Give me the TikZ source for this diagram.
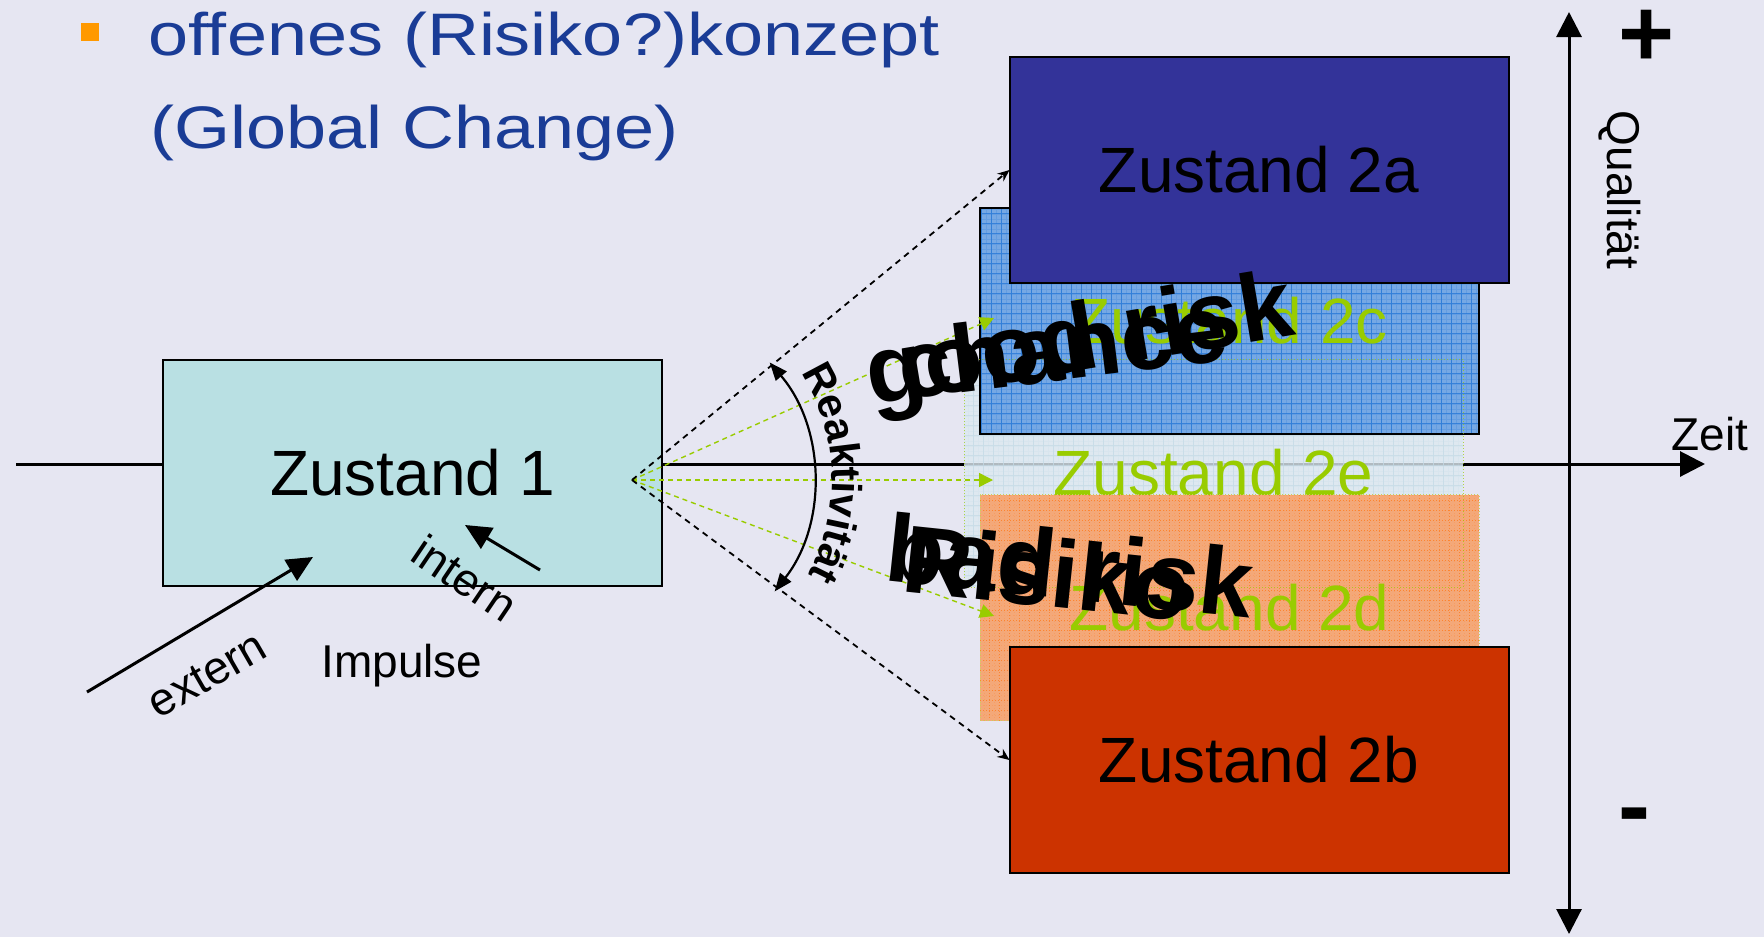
\documentclass[tikz,border=0pt]{standalone}
\usepackage{fontspec}
\setmainfont{Liberation Sans}
\usetikzlibrary{arrows.meta,decorations.text,calc}
\newcommand\fsz[1]{\fontsize{#1}{#1}\selectfont}
\definecolor{bg}{RGB}{230,230,242}
\definecolor{titleblue}{RGB}{26,60,150}
\definecolor{bulletorange}{RGB}{255,153,0}
\definecolor{zoneone}{RGB}{185,224,227}
\definecolor{darkblue}{RGB}{51,51,153}
\definecolor{rust}{RGB}{204,51,0}
\definecolor{bluefill}{RGB}{118,168,228}
\definecolor{blueline}{RGB}{30,115,215}
\definecolor{orangefill}{RGB}{244,168,120}
\definecolor{orangeline}{RGB}{255,122,26}
\definecolor{palefill}{RGB}{220,233,240}
\definecolor{paleline}{RGB}{196,218,230}
\definecolor{lime}{RGB}{153,204,0}
\definecolor{dotborder}{RGB}{200,210,90}
\begin{document}
\begin{tikzpicture}[x=1pt,y=1pt,
  statebox/.style={minimum width=499pt, minimum height=226pt, inner sep=0pt, outer sep=0pt, font=\fsz{64}},
  gridded/.style 2 args={fill=#1, path picture={
      \draw[#2, line width=0.4pt, opacity=0.2, step=5pt] (path picture bounding box.south west) grid (path picture bounding box.north east);
      \draw[#2, line width=1pt, opacity=0.7, step=10pt] (path picture bounding box.south west) grid (path picture bounding box.north east);}},
  axis/.style={line width=3pt, -{Triangle[length=25pt,width=25pt]}},
  blackdash/.style={line width=1.8pt, dash pattern=on 6pt off 5pt, -{Stealth[length=12pt,width=10pt]}},
  greendash/.style={lime, line width=1.4pt, dash pattern=on 5pt off 4pt, -{Triangle[length=14pt,width=14pt]}},
  impulse/.style={line width=3pt, -{Triangle[length=26pt,width=24pt]}},
  label/.style={font=\fsz{46}},
  bigword/.style={font=\bfseries\fsz{96}, inner sep=0pt},
  titletext/.style={font=\fsz{60}, text=titleblue, inner sep=0pt, xscale=1.2}
]
\fill[bg] (0,0) rectangle (1764,-937);
\useasboundingbox (0,0) rectangle (1764,-937);

% axes
\coordinate (hstart) at (16,-464);
\coordinate (hend) at (1705,-464);
\coordinate (vbot) at (1569,-934);
\coordinate (vtop) at (1569,-12);
\draw[axis] (hstart) -- (hend);
\draw[axis, {Triangle[length=25pt,width=25pt]}-{Triangle[length=25pt,width=25pt]}] (vbot) -- (vtop);

% state 1
\node[statebox, draw, line width=2pt, fill=zoneone] (z1) at (412.5,-472.5) {Zustand 1};

% state 2e (pale, behind)
\node[statebox, minimum height=228pt, gridded={palefill}{paleline}, fill opacity=0.8, text opacity=1, text=lime] (z2e) at (1213.5,-473) {Zustand 2e};
% state 2c
\node[statebox, gridded={bluefill}{blueline}, draw, line width=2.5pt, text=lime] (z2c) at (1229.5,-321) {Zustand 2c};
% state 2d
\node[statebox, gridded={orangefill}{orangeline}, draw=dotborder, dotted, line width=1pt, text=lime] (z2d) at (1229.5,-607.5) {Zustand 2d};
\draw[lime, dotted, line width=1pt, opacity=0.7] (z2e.south west) rectangle (z2e.north east);
% state 2a, 2b
\node[statebox, draw, line width=2pt, fill=darkblue] (z2a) at (1259,-170) {Zustand 2a};
\node[statebox, draw, line width=2pt, fill=rust] (z2b) at (1259,-760) {Zustand 2b};

% reaction fan
\coordinate (apex) at (632,-480);
\coordinate (g2c) at (994,-318);
\coordinate (g2e) at (993,-480);
\coordinate (g2d) at (994,-616);
\draw[greendash] (apex) -- (g2c);
\draw[greendash] (apex) -- (g2e);
\draw[greendash] (apex) -- (g2d);
\draw[blackdash] (apex) -- (z2a.west);
\draw[blackdash] (apex) -- (z2b.west);

% Reaktivitaet arc
\draw[line width=2.2pt, {Triangle[length=18pt,width=14pt]}-{Triangle[length=18pt,width=14pt]}]
  ($(apex)+(40.5:181)$) arc[start angle=40.5, end angle=-38, radius=181];
\path[decorate, decoration={text along path, text align=center,
  text={|\bfseries\fsz{42}|Reaktivit{ä}t}}]
  ($(apex)+(36:200)$) arc[start angle=36, end angle=-32, radius=200];

% overlapping big words
\node[bigword, rotate=9.5, anchor=base west] (goodrisk) at (871,-406) {good risk};
\node[bigword, rotate=7, anchor=base west] (chance) at (902,-400) {chance};
\node[bigword, rotate=-6, anchor=base west] (badrisk) at (883,-580) {bad risk};
\node[bigword, rotate=-6, anchor=base west] (risiko) at (900,-591) {Risiko};

% title
\node[fill=bulletorange, minimum size=18pt, inner sep=0pt] (bullet) at (90,-32) {};
\node[titletext, anchor=base west] (title1) at (148,-55) {offenes (Risiko?)konzept};
\node[titletext, anchor=base west] (title2) at (150,-148) {(Global Change)};

% axis labels
\node[font=\bfseries\fsz{96}, inner sep=0pt] (plus) at (1647,-38) {+};
\node[font=\bfseries\fsz{96}, inner sep=0pt] (minus) at (1634,-823) {-};
\node[label, rotate=-90] (quality) at (1620,-190) {Qualität};
\node[label, anchor=base] (zeit) at (1710,-450) {Zeit};

% impulses
\node[label, anchor=base] (impulse) at (402,-677) {Impulse};
\node[label, rotate=30] (extern) at (207,-675) {extern};
\node[label, rotate=-34] (intern) at (465,-578) {intern};
\coordinate (extS) at (87,-692);
\coordinate (extE) at (313,-557);
\coordinate (intS) at (540,-570);
\coordinate (intE) at (465,-525);
\draw[impulse] (extS) -- (extE);
\draw[impulse] (intS) -- (intE);
\end{tikzpicture}
\end{document}
